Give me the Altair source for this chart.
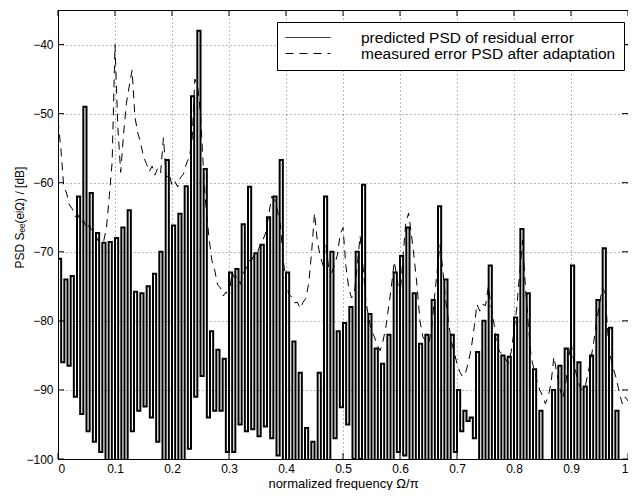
import altair as alt
import pandas as pd

SERIES = ["predicted PSD of residual error", "measured error PSD after adaptation"]

# predicted PSD: fast oscillating curve; peaks (UPPER, at k/90) and troughs (LOWER, at (k+0.5)/90)
N_CYCLES = 90
UPPER = [
    -71, -74, -73.5, -62, -49, -61.5, -67.3, -68.7, -68.6, -68,
    -66.5, -64, -75.8, -76, -75, -73.2, -70, -56.7, -66.2, -64.5,
    -60.5, -47.5, -38, -58, -81.5, -84.2, -85.5, -73, -72.5, -66,
    -60.6, -70.2, -69, -65, -62, -56.7, -73, -83, -87.5, -95.5,
    -97.5, -87.5, -62, -70, -81.5, -80.3, -78, -70, -60.3, -79,
    -84, -86.2, -82, -73, -70.6, -66.5, -76, -83.3, -82, -77,
    -63.4, -74, -82, -90, -93, -94, -84.5, -80, -72, -82,
    -85, -85.2, -79.5, -66.7, -76, -87, -93, -102, -90, -86.5,
    -84, -72, -86, -89.5, -85, -77, -69.5, -81, -93, -101,
    -106,
]
LOWER = [
    -86, -86.5, -91, -93.5, -96, -97.5, -99, -103, -104, -104,
    -101, -96, -93, -92.4, -94, -97.5, -100.5, -102.5, -103, -101,
    -98.5, -91, -88, -94, -93, -93, -99, -99, -95, -96,
    -95.7, -96.7, -95.3, -97, -99.5, -101, -104, -106, -109, -111,
    -110, -105, -101, -97, -92.5, -95, -100, -100, -102, -104,
    -105, -104, -102, -99, -99.5, -101, -103, -104, -103, -101,
    -100.5, -102, -99, -96, -94.5, -97, -101, -102, -101.5, -103,
    -104, -102.5, -101, -100.5, -102.5, -104, -108, -110, -105, -103,
    -101.5, -101, -103, -104, -103, -101, -100.5, -104, -107, -110,
]

# measured PSD, sampled every 0.005
DASH_STEP = 0.005
DASHED = [
    -51, -55, -60.5, -61.5, -63.2, -63.8, -64.9, -64.6, -65.8, -65.5, -66.7, -66.1, -67.2, -67.3, -68.4, -68.6, -68.5, -66.5, -62, -57,
    -40, -52, -58.5, -53, -48.5, -46, -43.7, -50.5, -52.8, -54.2, -56.3, -57.2, -58.4, -57.6, -58.9, -57.9, -58.6, -53.5, -59.3, -58.7,
    -60.4, -59.8, -60.6, -59.2, -58.8, -57.3, -56.3, -54.2, -45, -46, -50, -58, -64, -68, -71.3, -72.7, -74.8, -75.2, -76.4, -75.8,
    -76.9, -73, -73.8, -73.6, -74.7, -73.1, -72.4, -71.3, -71.2, -70.3, -70.2, -68.8, -68.2, -67.1, -64.5, -62, -62.5, -64, -66, -71,
    -74.5, -76.2, -76.5, -77.4, -77.3, -78.2, -77.3, -76.7, -74.5, -70, -64.4, -68.5, -70.6, -72, -69, -72.4, -73, -72, -70.5, -67.5,
    -66.5, -72, -75.2, -76.7, -76, -72, -67.7, -72, -77, -79.5, -81.5, -82.3, -83.5, -84.3, -83, -81, -78, -75, -71.4, -74,
    -76.5, -71, -66, -64.4, -67.5, -71, -75, -80, -82.3, -83, -83.3, -81.5, -77, -73, -69, -72.5, -77, -80, -83, -84.5,
    -86.2, -87.4, -88.1, -87.5, -86, -84, -81, -77.6, -78.6, -77.6, -77.8, -75, -78, -80.5, -83.5, -84.5, -84.8, -85.5, -86.2, -84.5,
    -81.5, -78, -73, -68.3, -75, -80.5, -85.2, -87, -88.6, -90, -90.8, -92, -91, -89, -85.2, -87.5, -89.5, -91.4, -89.5, -86.2,
    -83, -86, -88, -89.5, -90, -89.5, -87.5, -85.5, -83, -80, -77.6, -75.2, -76, -82.3, -85.5, -87.1, -88.5, -90.5, -92, -91,
    -91.6,
]

X_TICKS = [0, 0.1, 0.2, 0.3, 0.4, 0.5, 0.6, 0.7, 0.8, 0.9, 1]
Y_TICKS = [-100, -90, -80, -70, -60, -50, -40]
X_DOMAIN = [0, 1]
Y_DOMAIN = [-100, -35]

# build tables
solid_f, solid_v = [], []
for k in range(N_CYCLES):
    solid_f += [k / N_CYCLES, (k + 0.5) / N_CYCLES]
    solid_v += [UPPER[k], LOWER[k]]
solid_f.append(1.0)
solid_v.append(UPPER[N_CYCLES])
solid_df = pd.DataFrame({"f": solid_f, "v": solid_v, "series": SERIES[0]})
dashed_df = pd.DataFrame({"f": [round(i * DASH_STEP, 4) for i in range(len(DASHED))],
                          "v": DASHED, "series": SERIES[1]})

PLOT_W, PLOT_H = 570, 449
TICK_PX = 6
tx = TICK_PX / PLOT_W * (X_DOMAIN[1] - X_DOMAIN[0])
ty = TICK_PX / PLOT_H * (Y_DOMAIN[1] - Y_DOMAIN[0])

xs = alt.Scale(domain=X_DOMAIN, nice=False, zero=False)
ys = alt.Scale(domain=Y_DOMAIN, nice=False, zero=False)
dash_scale = alt.Scale(domain=SERIES, range=[[1, 0], [8, 6]])

x_axis = alt.Axis(values=X_TICKS, format="~g", title="normalized frequency Ω/π",
                  grid=True, ticks=False, domain=False, labelPadding=4, titlePadding=3,
                  titleFontSize=13)
y_axis = alt.Axis(values=Y_TICKS, format="d", title="PSD  Sₑₑ(eʲΩ) / [dB]",
                  grid=True, ticks=False, domain=False, labelPadding=5,
                  titleFontSize=12, titleX=-39, titleY=207, titleAngle=270,
                  titleAlign="center", titleBaseline="middle")

legend = alt.Legend(orient="none", legendX=219, legendY=12, title=None,
                    symbolType="stroke", symbolSize=2025, symbolStrokeWidth=1,
                    symbolStrokeColor="black", labelOffset=30, labelFontSize=15.5,
                    labelColor="black", strokeColor="black", fillColor="white",
                    padding=8, rowPadding=0, clipHeight=15, labelLimit=400)

solid = alt.Chart(solid_df).mark_line(color="black", strokeWidth=2.0, clip=True,
                                      interpolate="step-after").encode(
    x=alt.X("f:Q", scale=xs, axis=x_axis),
    y=alt.Y("v:Q", scale=ys, axis=y_axis),
    strokeDash=alt.StrokeDash("series:N", scale=dash_scale, legend=legend),
)
dashed = alt.Chart(dashed_df).mark_line(color="black", strokeWidth=1, clip=True).encode(
    x=alt.X("f:Q", scale=xs),
    y=alt.Y("v:Q", scale=ys),
    strokeDash=alt.StrokeDash("series:N", scale=dash_scale, legend=legend),
)

# inward ticks on all four sides
bt = pd.DataFrame({"x": X_TICKS, "y": Y_DOMAIN[0], "y2": Y_DOMAIN[0] + ty})
tt = pd.DataFrame({"x": X_TICKS, "y": Y_DOMAIN[1], "y2": Y_DOMAIN[1] - ty})
lt = pd.DataFrame({"y": Y_TICKS, "x": X_DOMAIN[0], "x2": X_DOMAIN[0] + tx})
rt = pd.DataFrame({"y": Y_TICKS, "x": X_DOMAIN[1], "x2": X_DOMAIN[1] - tx})
vt = pd.concat([bt, tt])
ht = pd.concat([lt, rt])
vticks = alt.Chart(vt).mark_rule(color="black", strokeWidth=1).encode(
    x=alt.X("x:Q", scale=xs), y=alt.Y("y:Q", scale=ys), y2="y2:Q")
hticks = alt.Chart(ht).mark_rule(color="black", strokeWidth=1).encode(
    y=alt.Y("y:Q", scale=ys), x=alt.X("x:Q", scale=xs), x2="x2:Q")

chart = alt.layer(vticks, hticks, solid, dashed).properties(
    width=PLOT_W, height=PLOT_H,
    autosize=alt.AutoSizeParams(type="none"),
    padding={"left": 50, "top": 2, "right": 0, "bottom": 31},
).configure(font="Liberation Sans").configure_view(
    stroke="black", strokeWidth=1
).configure_axis(
    labelFont="Liberation Sans", labelFontSize=12, labelColor="black",
    titleFont="Liberation Sans", titleFontWeight="normal", titleColor="black",
    gridColor="black", gridOpacity=0.55, gridDash=[1, 3], gridWidth=1,
).configure_legend(labelFont="Liberation Sans")

chart.save("out.html", embed_options={"renderer": "svg", "actions": False})
